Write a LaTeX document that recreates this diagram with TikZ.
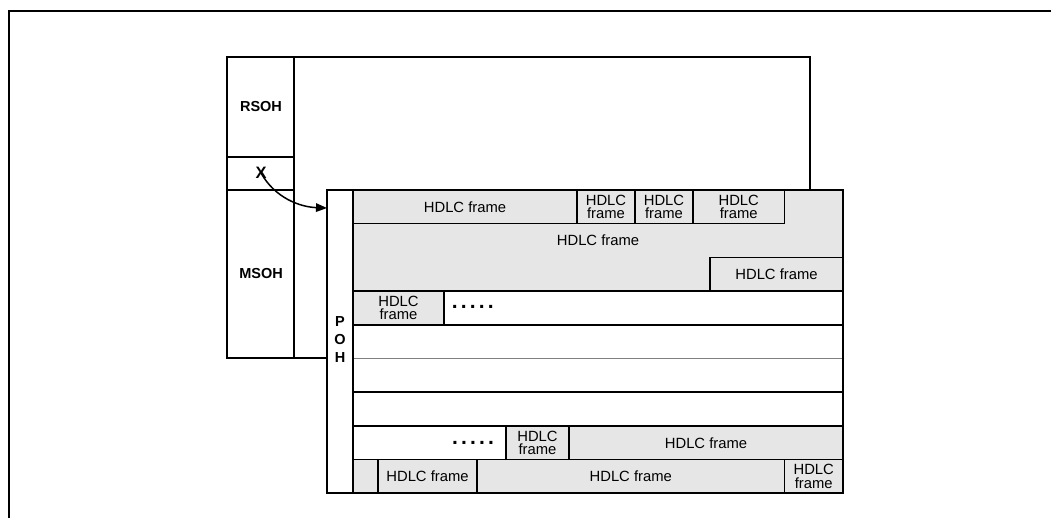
\documentclass[tikz,border=0pt]{standalone}
\usepackage{fontspec}
\setmainfont{Liberation Sans}
\usetikzlibrary{arrows.meta}
\definecolor{framegray}{RGB}{230,230,230}
\tikzset{
  framebox/.style={draw=black, fill=framegray, line width=1.5pt},
  rowline/.style={draw=black, line width=1.5pt},
  heavyline/.style={draw=black, line width=2.2pt},
  lbl/.style={inner sep=0pt, align=center, font=\fontsize{14.8}{13.5}\selectfont},
  boldlbl/.style={inner sep=0pt, align=center, font=\fontsize{14.5}{18}\selectfont\bfseries},
  dotlbl/.style={inner sep=0pt, font=\fontsize{21}{21}\selectfont\bfseries},
  pointer/.style={draw=black, line width=1.5pt, -{Triangle[length=11pt,width=8.5pt]}},
}
\newcommand\frm[6]{\draw[framebox] (#1,#2) rectangle (#3,#4);
  \node[lbl] (#5) at ({(#1+#3)/2},{(#2+#4)/2}) {#6};}
\newcommand\dotrow{.\kern3.2pt.\kern3.2pt.\kern3.2pt.\kern3.2pt.}
\begin{document}
\begin{tikzpicture}[x=1pt, y=-1pt]
\useasboundingbox (0,0) rectangle (1051,517);
% outer border (top and left)
\draw[line width=2.6pt] (9,530) -- (9,11) -- (1060,11);

% back frame (STM frame)
\draw[heavyline] (227,57) rectangle (810,358);
\draw[rowline] (294,57) -- (294,358);
\draw[heavyline] (227,157) -- (294,157);
\draw[heavyline] (227,190) -- (294,190);
\node[boldlbl] (rsoh) at (261,107) {RSOH};
\node[boldlbl, font=\fontsize{16.5}{18}\selectfont\bfseries] (xl) at (261,173) {X};
\node[boldlbl] (msoh) at (261,274) {MSOH};

% front frame (VC)
\fill[white] (327,190) rectangle (843,493.3);

% row 2-3 large frame
\draw[framebox] (784.5,190) -- (843,190) -- (843,257.4) -- (710,257.4) -- (710,291.1)
  -- (353,291.1) -- (353,223.7) -- (784.5,223.7) -- cycle;
\node[lbl] (f5) at (598,240.5) {HDLC frame};
% row 1
\frm{353}{190}{577}{223.7}{f1}{HDLC frame}
\frm{577}{190}{635}{223.7}{f2}{HDLC\\frame}
\frm{635}{190}{693}{223.7}{f3}{HDLC\\frame}
\frm{693}{190}{784.5}{223.7}{f4}{HDLC\\frame}
% row 3
\frm{710}{257.4}{843}{291.1}{f6}{HDLC frame}
% row 4
\frm{353}{291.1}{444}{324.8}{f7}{HDLC\\frame}
\node[dotlbl, anchor=base] (d1) at (472.8,308.3) {\dotrow};
% rows 5-7
\draw[rowline] (353,324.8) -- (843,324.8);
\draw[rowline, draw=black!50] (353,358.5) -- (843,358.5);
\draw[rowline] (353,392.2) -- (843,392.2);
% row 8
\draw[rowline] (353,425.9) -- (843,425.9);
\node[dotlbl, anchor=base] (d2) at (473,444.3) {\dotrow};
\frm{506}{425.9}{569}{459.6}{f8}{HDLC\\frame}
\frm{569}{425.9}{843}{459.6}{f9}{HDLC frame}
% row 9
\draw[framebox] (353,459.6) rectangle (378,493.3);
\frm{378}{459.6}{477}{493.3}{f10}{HDLC frame}
\frm{477}{459.6}{784.5}{493.3}{f11}{HDLC frame}
\frm{784.5}{459.6}{843}{493.3}{f12}{HDLC\\frame}

% front frame outline and POH column
\draw[heavyline] (327,190) rectangle (843,493.3);
\draw[heavyline] (353,190) -- (353,493.3);
\node[boldlbl] (poh) at (340,340) {P\\O\\H};

% pointer from X to the front frame
\coordinate (target) at (327,208);
\draw[pointer] (xl.center) .. controls (275,198) and (300,207) .. (target);
\end{tikzpicture}
\end{document}
